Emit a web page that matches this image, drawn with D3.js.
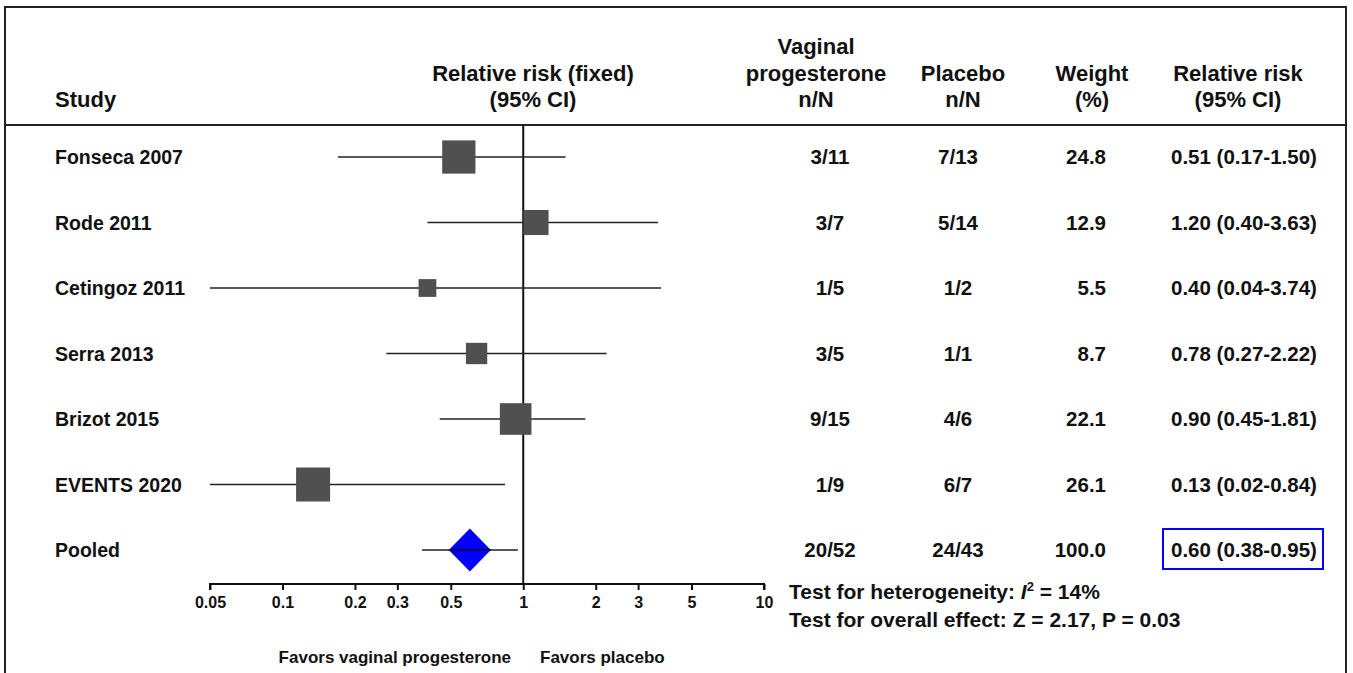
<!DOCTYPE html>
<html>
<head>
<meta charset="utf-8">
<script src="https://cdn.jsdelivr.net/npm/d3@7"></script>
<style>
  body { margin: 0; background: #fff; }
  text { font-family: "Liberation Sans", Arial, sans-serif; font-weight: bold; fill: #111; }
</style>
</head>
<body>
<div class="chart"></div>
<script>
// data
const studies = ['Fonseca 2007', 'Rode 2011', 'Cetingoz 2011', 'Serra 2013', 'Brizot 2015', 'EVENTS 2020'];
// where the squares sit in the figure
const markRR = [0.54, 1.13, 0.40, 0.64, 0.93, 0.134];
const lower = [0.17, 0.40, 0.04, 0.27, 0.45, 0.02];
const upper = [1.50, 3.63, 3.74, 2.22, 1.81, 0.84];
const treat = ['3/11', '3/7', '1/5', '3/5', '9/15', '1/9'];
const placebo = ['7/13', '5/14', '1/2', '1/1', '4/6', '6/7'];
const weight = [24.8, 12.9, 5.5, 8.7, 22.1, 26.1];
const rrText = ['0.51 (0.17-1.50)', '1.20 (0.40-3.63)', '0.40 (0.04-3.74)', '0.78 (0.27-2.22)', '0.90 (0.45-1.81)', '0.13 (0.02-0.84)'];

const pooled = { label: 'Pooled', rr: 0.60, lower: 0.38, upper: 0.95, treat: '20/52', placebo: '24/43', weight: '100.0', text: '0.60 (0.38-0.95)' };
const tickValues = [0.05, 0.1, 0.2, 0.3, 0.5, 1, 2, 3, 5, 10];

const width = 1353, height = 673;
const svg = d3.select('.chart').append('svg')
    .attr('width', width)
    .attr('height', height);

// frame and header rule
svg.append('rect')
    .attr('x', 5).attr('y', 7)
    .attr('width', 1341).attr('height', 700)
    .style('fill', 'none').style('stroke', '#222').style('stroke-width', 2);
svg.append('line')
    .attr('x1', 5).attr('x2', 1346).attr('y1', 125).attr('y2', 125)
    .style('stroke', '#222').style('stroke-width', 2);

// scales
let x = d3.scaleLog().domain([0.05, 10]).range([210, 764]).clamp(true);
let y = d3.scalePoint().domain(studies.concat([pooled.label])).range([157, 550]);
let size = d3.scaleSqrt().domain([0, 26.1]).range([4, 34]);

// header
function header(lines, xPos, anchor) {
    let t = svg.append('text').attr('text-anchor', anchor).style('font-size', '22px');
    let baseY = 107 - (lines.length - 1) * 26.5;
    lines.forEach((l, i) => {
        t.append('tspan').attr('x', xPos).attr('y', baseY + i * 26.5).text(l);
    });
}
header(['Study'], 55, 'start');
header(['Relative risk (fixed)', '(95% CI)'], 533, 'middle');
header(['Vaginal', 'progesterone', 'n/N'], 816, 'middle');
header(['Placebo', 'n/N'], 963, 'middle');
header(['Weight', '(%)'], 1092, 'middle');
header(['Relative risk', '(95% CI)'], 1238, 'middle');

// line of no effect
svg.append('line')
    .attr('x1', x(1)).attr('x2', x(1))
    .attr('y1', 125).attr('y2', 584)
    .style('stroke', '#111').style('stroke-width', 2);

// study rows
let rows = svg.selectAll('.row')
    .data(studies)
    .enter().append('g')
    .attr('class', 'row');

rows.append('line')
    .attr('x1', (d, i) => x(lower[i]))
    .attr('x2', (d, i) => x(upper[i]))
    .attr('y1', d => y(d)).attr('y2', d => y(d))
    .style('stroke', '#222').style('stroke-width', 1.5);

rows.append('rect')
    .attr('x', (d, i) => x(markRR[i]) - size(weight[i]) / 2)
    .attr('y', (d, i) => y(d) - size(weight[i]) / 2)
    .attr('width', (d, i) => size(weight[i]))
    .attr('height', (d, i) => size(weight[i]))
    .style('fill', '#505050');

const fs = '19.5px', fn = '20.5px';
rows.append('text').attr('x', 55).attr('y', d => y(d) + 7).style('font-size', fs).text(d => d);
rows.append('text').attr('x', 830).attr('y', d => y(d) + 7).attr('text-anchor', 'middle').style('font-size', fn).text((d, i) => treat[i]);
rows.append('text').attr('x', 958).attr('y', d => y(d) + 7).attr('text-anchor', 'middle').style('font-size', fn).text((d, i) => placebo[i]);
rows.append('text').attr('x', 1106).attr('y', d => y(d) + 7).attr('text-anchor', 'end').style('font-size', fn).text((d, i) => weight[i].toFixed(1));
rows.append('text').attr('x', 1171).attr('y', d => y(d) + 7).style('font-size', fn).text((d, i) => rrText[i]);

// pooled row
let py = y(pooled.label);
svg.append('line')
    .attr('x1', x(pooled.lower)).attr('x2', x(pooled.upper))
    .attr('y1', py).attr('y2', py)
    .style('stroke', '#222').style('stroke-width', 1.5);
let cx = x(pooled.rr);
svg.append('path')
    .attr('d', `M${cx - 21},${py} L${cx},${py - 21.5} L${cx + 21},${py} L${cx},${py + 21.5} Z`)
    .style('fill', '#0000ff');
svg.append('line')
    .attr('x1', cx - 21).attr('x2', cx + 21)
    .attr('y1', py).attr('y2', py)
    .style('stroke', '#111').style('stroke-width', 1.5);

svg.append('text').attr('x', 55).attr('y', py + 7).style('font-size', fs).text(pooled.label);
svg.append('text').attr('x', 830).attr('y', py + 7).attr('text-anchor', 'middle').style('font-size', fn).text(pooled.treat);
svg.append('text').attr('x', 958).attr('y', py + 7).attr('text-anchor', 'middle').style('font-size', fn).text(pooled.placebo);
svg.append('text').attr('x', 1106).attr('y', py + 7).attr('text-anchor', 'end').style('font-size', fn).text(pooled.weight);
svg.append('text').attr('x', 1171).attr('y', py + 7).style('font-size', fn).text(pooled.text);
svg.append('rect')
    .attr('x', 1163).attr('y', 529).attr('width', 160).attr('height', 40)
    .style('fill', 'none').style('stroke', '#0000ff').style('stroke-width', 2);

// axis
let xAxis = d3.axisBottom(x)
    .tickValues(tickValues)
    .tickSize(6)
    .tickPadding(7)
    .tickFormat(d => String(d));
let axisG = svg.append('g')
    .attr('transform', 'translate(0,584)')
    .call(xAxis);
axisG.select('.domain').attr('d', 'M210,6V0H764V6').style('stroke', '#111').style('stroke-width', 2);
axisG.selectAll('.tick line').style('stroke', '#111').style('stroke-width', 2);
axisG.selectAll('.tick text')
    .style('font-size', '16px')
    .style('font-family', '"Liberation Sans", Arial, sans-serif')
    .style('font-weight', 'bold')
    .style('fill', '#111');

svg.append('text').attr('x', 511).attr('y', 663).attr('text-anchor', 'end').style('font-size', '17px').text('Favors vaginal progesterone');
svg.append('text').attr('x', 540).attr('y', 663).style('font-size', '17px').text('Favors placebo');

// test statistics
let het = svg.append('text').attr('x', 789).attr('y', 599).style('font-size', '21px');
het.append('tspan').text('Test for heterogeneity: ');
het.append('tspan').style('font-style', 'italic').text('I');
het.append('tspan').attr('dy', -8).style('font-size', '13px').text('2');
het.append('tspan').attr('dy', 8).text(' = 14%');
svg.append('text').attr('x', 789).attr('y', 627).style('font-size', '21px').text('Test for overall effect: Z = 2.17, P = 0.03');
</script>
</body>
</html>
